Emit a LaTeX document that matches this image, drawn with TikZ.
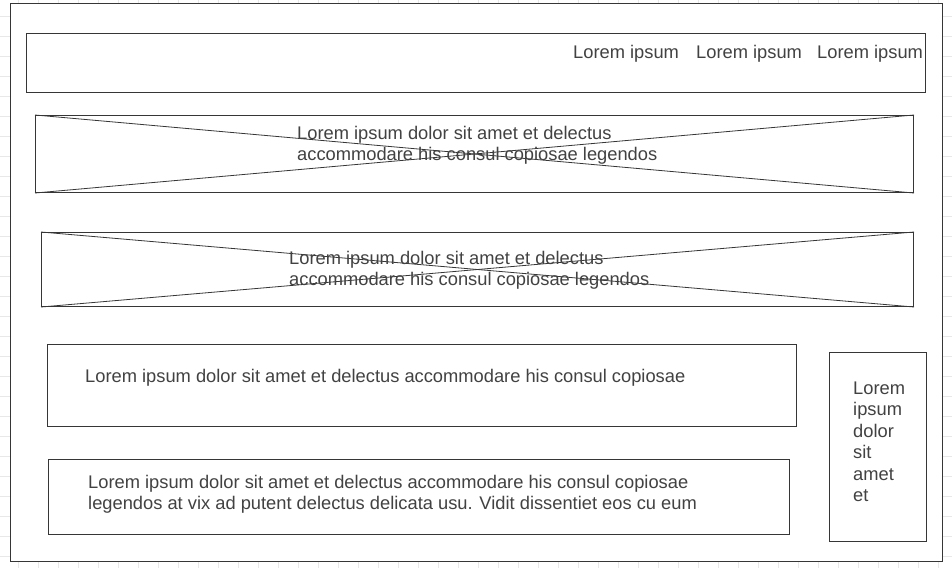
\documentclass[tikz,border=0pt]{standalone}
\usepackage{fontspec}
\setmainfont{Liberation Sans}
\definecolor{linegray}{HTML}{363636}
\definecolor{textgray}{HTML}{424242}
\definecolor{gridgray}{HTML}{E8E8E8}
\begin{document}
\begin{tikzpicture}[x=1pt,y=-1pt,
  frame/.style={draw=linegray, line width=1pt, fill=white, inner sep=0pt, anchor=north west},
  cross/.style={draw=linegray, line width=0.8pt},
  label/.style={text=textgray, inner sep=0pt, anchor=base west, align=left,
    font=\fontsize{18.3}{21.4}\selectfont}]
\useasboundingbox (0,0) rectangle (952,568);
\fill[white] (0,0) rectangle (952,568);
% background grid
\foreach \x in {18.3,38.3,...,950} \draw[gridgray, line width=0.8pt] (\x,0) -- (\x,568);
\foreach \y in {16,36,...,566} \draw[gridgray, line width=0.8pt] (0,\y) -- (952,\y);

% page frame
\node[frame, minimum width=932.5pt, minimum height=558pt] (page) at (9.5,2.5) {};

% header bar with menu items
\node[frame, minimum width=899pt, minimum height=59pt] (header) at (26,33) {};
\node[label] (menuA) at (573,58) {Lorem ipsum};
\node[label] (menuB) at (696,58) {Lorem ipsum};
\node[label] (menuC) at (817,58) {Lorem ipsum};

% image placeholders
\node[frame, minimum width=878pt, minimum height=77pt] (imgA) at (35,115) {};
\draw[cross] (imgA.north west) -- (imgA.south east);
\draw[cross] (imgA.south west) -- (imgA.north east);
\node[label] (imgAtext) at (297,160.7) {Lorem ipsum dolor sit amet et delectus\\accommodare his consul copiosae legendos};

\node[frame, minimum width=872pt, minimum height=74pt] (imgB) at (41,232) {};
\draw[cross] (imgB.north west) -- (imgB.south east);
\draw[cross] (imgB.south west) -- (imgB.north east);
\node[label] (imgBtext) at (289,285.7) {Lorem ipsum dolor sit amet et delectus\\accommodare his consul copiosae legendos};

% text blocks
\node[frame, minimum width=749pt, minimum height=82pt] (blockA) at (47,344) {};
\node[label] (blockAtext) at (85,382) {Lorem ipsum dolor sit amet et delectus accommodare his consul copiosae};

\node[frame, minimum width=741pt, minimum height=75pt] (blockB) at (48,459) {};
\node[label] (blockBtext) at (88,509.5) {Lorem ipsum dolor sit amet et delectus accommodare his consul copiosae\\legendos at vix ad putent delectus delicata usu. Vidit dissentiet eos cu eum};

% side column
\node[frame, minimum width=97pt, minimum height=189pt] (side) at (829,352) {};
\node[label] (sidetext) at (853,501.5) {Lorem\\ipsum\\dolor\\sit\\amet\\et};
\end{tikzpicture}
\end{document}
